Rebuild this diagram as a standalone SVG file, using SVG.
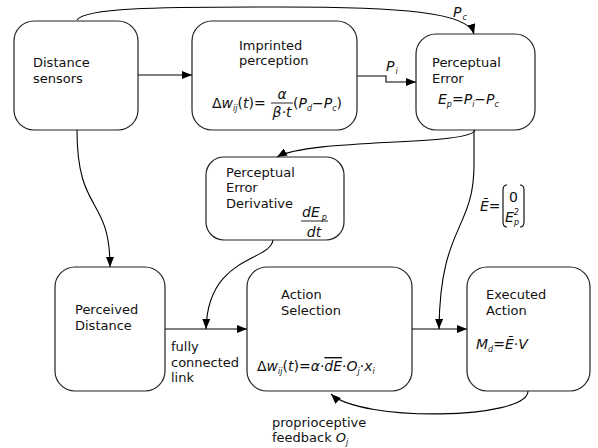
<svg xmlns="http://www.w3.org/2000/svg" width="598" height="448" viewBox="0 0 598 448">
<defs>
<marker id="ah" viewBox="0 0 10 8" refX="10" refY="4" markerWidth="10" markerHeight="8" markerUnits="userSpaceOnUse" orient="auto">
<path d="M0,0 L10,4 L0,8 Z" fill="#000"/>
</marker>
</defs>
<style>
.box{fill:#fff;stroke:#222;stroke-width:1.2}
.t{font-family:"DejaVu Sans",sans-serif;font-size:13px;fill:#111}
.m{font-family:"DejaVu Sans",sans-serif;font-size:14px;fill:#111}
.i{font-style:italic}
.s{font-size:8px}
.c{fill:none;stroke:#000;stroke-width:1.1}
.a{marker-end:url(#ah)}
.ol{text-decoration:overline}
</style>
<rect width="598" height="448" fill="#fff"/>

<g id="connectors">
<path class="c a" d="M138,75 L192,75"/>
<path class="c a" d="M77,20 C85,8 150,7 280,7 C400,7 468,12 474,34"/>
<path class="c a" d="M357,76 L386,76 L386,82 L416,82"/>
<path class="c a" d="M475,130 C472,146 310,138 277,157"/>
<path class="c a" d="M474,130 L474,165 C474,230 440,225 439,329"/>
<path class="c a" d="M77,130 C77,215 110,195 110,267"/>
<path class="c a" d="M165,329 L247,329"/>
<path class="c a" d="M273,240 C270,262 208,255 206,329"/>
<path class="c a" d="M412,329 L467,329"/>
<path class="c a" d="M528,391 C528,420 360,422 331,394"/>
</g>

<g id="distance-sensors">
<rect class="box" x="14" y="21" width="124" height="109" rx="20"/>
<text class="t" x="33" y="67">Distance</text>
<text class="t" x="33" y="83">sensors</text>
</g>

<g id="imprinted-perception">
<rect class="box" x="192" y="21" width="165" height="109" rx="20"/>
<text class="t" x="239" y="50">Imprinted</text>
<text class="t" x="239" y="65">perception</text>
<text class="m" x="212" y="108">Δ<tspan class="i">w</tspan><tspan class="s i" dy="3">ij</tspan><tspan dy="-3">(</tspan><tspan class="i">t</tspan>)=</text>
<text class="m i" x="282" y="99" text-anchor="middle">α</text>
<line x1="271" y1="103" x2="293" y2="103" stroke="#111" stroke-width="0.9"/>
<text class="m i" x="282" y="117" text-anchor="middle">β·t</text>
<text class="m" x="293" y="108">(<tspan class="i">P</tspan><tspan class="s i" dy="3">d</tspan><tspan dy="-3">−</tspan><tspan class="i">P</tspan><tspan class="s i" dy="3">c</tspan><tspan dy="-3">)</tspan></text>
</g>

<g id="perceptual-error">
<rect class="box" x="416" y="34" width="119" height="96" rx="20"/>
<text class="t" x="432" y="67">Perceptual</text>
<text class="t" x="432" y="83">Error</text>
<text class="m" x="438" y="104"><tspan class="i">E</tspan><tspan class="s i" dy="3">p</tspan><tspan dy="-3">=</tspan><tspan class="i">P</tspan><tspan class="s i" dy="3">i</tspan><tspan dy="-3">−</tspan><tspan class="i">P</tspan><tspan class="s i" dy="3">c</tspan></text>
</g>

<g id="perceptual-error-derivative">
<rect class="box" x="206" y="157" width="138" height="83" rx="18"/>
<text class="t" x="226" y="177">Perceptual</text>
<text class="t" x="226" y="192">Error</text>
<text class="t" x="226" y="208">Derivative</text>
<text class="m i" x="302" y="217">dE<tspan class="s" dx="2" dy="3">p</tspan></text>
<line x1="301" y1="221" x2="328" y2="221" stroke="#111" stroke-width="0.9"/>
<text class="m i" x="314" y="237" text-anchor="middle">dt</text>
</g>

<g id="perceived-distance">
<rect class="box" x="55" y="267" width="110" height="124" rx="20"/>
<text class="t" x="75" y="314">Perceived</text>
<text class="t" x="75" y="330">Distance</text>
</g>

<g id="action-selection">
<rect class="box" x="247" y="267" width="165" height="124" rx="20"/>
<text class="t" x="281" y="299">Action</text>
<text class="t" x="281" y="315">Selection</text>
<text class="m" x="257" y="371">Δ<tspan class="i">w</tspan><tspan class="s i" dy="3">ij</tspan><tspan dy="-3">(</tspan><tspan class="i">t</tspan>)=<tspan class="i">α</tspan>·<tspan class="i ol">dE</tspan>·<tspan class="i">O</tspan><tspan class="s i" dy="3">j</tspan><tspan dy="-3">·</tspan><tspan class="i">x</tspan><tspan class="s i" dy="3">i</tspan></text>
</g>

<g id="executed-action">
<rect class="box" x="467" y="267" width="123" height="124" rx="20"/>
<text class="t" x="486" y="299">Executed</text>
<text class="t" x="486" y="315">Action</text>
<text class="m" x="476" y="349"><tspan class="i">M</tspan><tspan class="s i" dy="3">d</tspan><tspan dy="-3">=</tspan><tspan class="i">Ē</tspan>·<tspan class="i">V</tspan></text>
</g>

<g id="labels">
<text class="m i" x="453" y="17">P<tspan class="s" dx="1" dy="3">c</tspan></text>
<text class="m i" x="386" y="71">P<tspan class="s" dx="1" dy="3">i</tspan></text>
<text class="m" x="480" y="211"><tspan class="i">Ē</tspan>=</text>
<path class="c" d="M507,185 Q503,185 503,190 L503,222 Q503,227 507,227"/>
<path class="c" d="M520,185 Q524,185 524,190 L524,222 Q524,227 520,227"/>
<text class="m" x="513.5" y="202" text-anchor="middle">0</text>
<text class="m" x="505" y="222"><tspan class="i">E</tspan><tspan class="s i" dx="0" dy="-7">2</tspan><tspan class="s i" dx="-5" dy="10">p</tspan></text>
<text class="t" x="171" y="351">fully</text>
<text class="t" x="171" y="367">connected</text>
<text class="t" x="171" y="382">link</text>
<text class="t" x="272" y="427">proprioceptive</text>
<text class="t" x="272" y="442">feedback <tspan class="i">O</tspan><tspan class="s i" dy="3">j</tspan></text>
</g>
</svg>
